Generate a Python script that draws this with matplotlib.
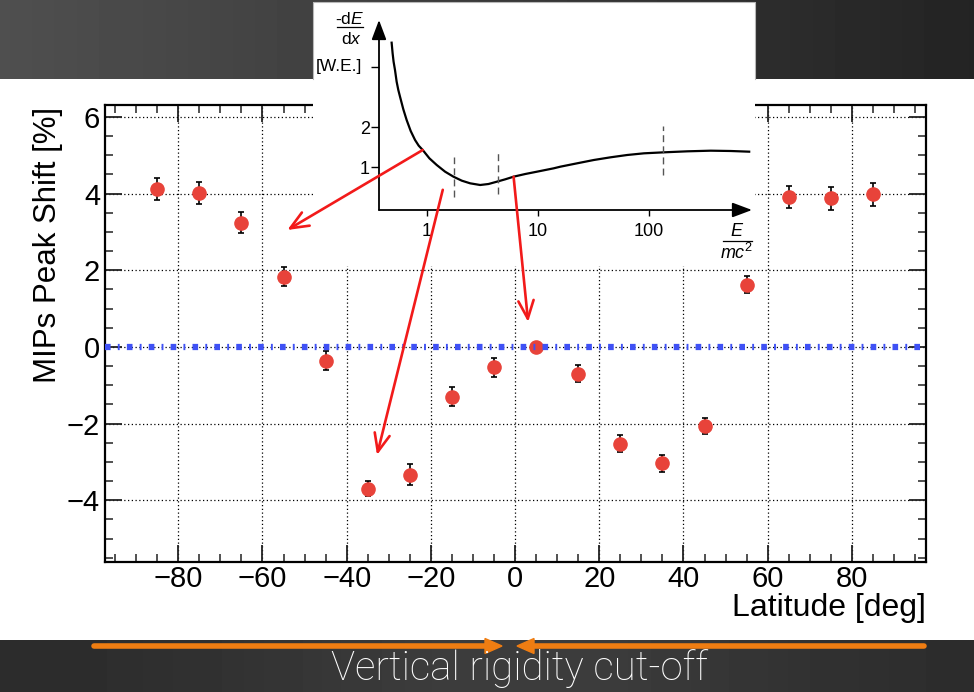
import numpy as np
import matplotlib
matplotlib.use('Agg')
import matplotlib.pyplot as plt
from matplotlib.ticker import MultipleLocator, FixedLocator, NullLocator
from matplotlib.patches import Rectangle, Polygon, ConnectionPatch

plt.rcParams['font.family'] = ['Liberation Sans', 'DejaVu Sans']
plt.rcParams['mathtext.fontset'] = 'custom'
plt.rcParams['mathtext.rm'] = 'Liberation Sans'
plt.rcParams['mathtext.it'] = 'Liberation Sans:italic'

# ---------------- data ----------------
latitude = [-85, -75, -65, -55, -45, -35, -25, -15, -5, 5, 15, 25, 35, 45, 55, 65, 75, 85]
peak_shift = [4.12, 4.02, 3.24, 1.83, -0.36, -3.70, -3.33, -1.30, -0.53, 0.0,
              -0.70, -2.52, -3.03, -2.06, 1.62, 3.91, 3.88, 3.98]
peak_err = [0.28, 0.28, 0.27, 0.25, 0.25, 0.2, 0.27, 0.25, 0.25, 0.0,
            0.22, 0.22, 0.22, 0.2, 0.22, 0.28, 0.3, 0.3]
xticks_main = [-80, -60, -40, -20, 0, 20, 40, 60, 80]
yticks_main = [-4, -2, 0, 2, 4, 6]

# inset: schematic Bethe-Bloch curve
bb_energy = [0.485, 0.495, 0.505, 0.520, 0.538, 0.557, 0.577, 0.618, 0.662, 0.720,
             0.788, 0.850, 0.924, 1.061, 1.235, 1.469, 1.747, 2.077, 2.470, 3.040,
             3.614, 4.298, 5.110, 6.077, 7.745, 9.870, 13.95, 16.03, 22.66, 32.04,
             45.3, 64.0, 90.6, 137.2, 222.8, 362, 548, 803]
bb_dedx = [4.108, 3.842, 3.633, 3.425, 3.133, 2.925, 2.758, 2.442, 2.175, 1.900,
           1.675, 1.533, 1.425, 1.217, 1.050, 0.883, 0.758, 0.658, 0.592, 0.550,
           0.575, 0.633, 0.692, 0.758, 0.825, 0.883, 0.967, 1.008, 1.092, 1.175,
           1.242, 1.300, 1.342, 1.367, 1.392, 1.408, 1.400, 1.383]
bb_xticks = [1, 10, 100]
bb_xticklabels = ['1', '10', '100']
bb_yticks = [1, 2, 3.5]
bb_yticklabels = ['1', '2', '']
bb_mark_energy = [1.77, 4.4, 135]
bb_mark_low = [0.25, 0.33, 0.80]
bb_mark_high = [1.25, 1.35, 2.03]

# red arrows: from (E/mc2, dE/dx) on inset to (latitude, shift) on main plot
arrow_from = [(0.924, 1.425), (1.40, 0.43), (6.077, 0.758)]
arrow_to = [(-54.1, 3.05), (-32.8, -2.82), (3.1, 0.65)]

RED = '#e8433a'
BLUE = '#3f51f5'
ORANGE = '#ef7d12'

W, H = 974, 692
fig = plt.figure(figsize=(W / 100, H / 100), dpi=100)
fig.patch.set_facecolor('white')


def frac(x0, y0, x1, y1):
    return [x0 / W, 1 - y1 / H, (x1 - x0) / W, (y1 - y0) / H]


# ---------------- slide background ----------------
bg = fig.add_axes([0, 0, 1, 1], zorder=-5)
xs = np.linspace(0, 1, 300)
top = np.tile(0.31 - 0.17 * xs, (2, 1))
bg.imshow(top, extent=(0, W, 79, 0), cmap='gray', vmin=0, vmax=1,
          aspect='auto', interpolation='bilinear')
bot = np.tile(0.17 + 0.07 * np.exp(-((xs - 0.53) / 0.3) ** 2), (2, 1))
bg.imshow(bot, extent=(0, W, H, 640), cmap='gray', vmin=0, vmax=1,
          aspect='auto', interpolation='bilinear')
bg.set_xlim(0, W)
bg.set_ylim(H, 0)
bg.axis('off')

# orange arrows
bg.plot([94, 487], [646, 646], color=ORANGE, lw=4, solid_capstyle='round')
bg.add_patch(Polygon([[485, 638.5], [502, 646], [485, 653.5]], closed=True, color=ORANGE))
bg.plot([532, 924], [646, 646], color=ORANGE, lw=4, solid_capstyle='round')
bg.add_patch(Polygon([[534, 638.5], [517, 646], [534, 653.5]], closed=True, color=ORANGE))
bg.text(519, 668, 'Vertical rigidity cut-off', color='white', fontsize=29,
        family=['Roboto', 'DejaVu Sans'], fontweight='light', ha='center', va='center')

# ---------------- main axes ----------------
ax = fig.add_axes(frac(105, 105, 926, 562), zorder=1)
ax.errorbar(latitude, peak_shift, yerr=peak_err, fmt='o', color=RED, ms=9.5,
            mec=RED, ecolor='black', elinewidth=1.2, capsize=2.5, capthick=1.2, zorder=3)
ax.axhline(0, color=BLUE, lw=4.5, linestyle=(0, (0.9, 1.15, 0.3, 1.15)), zorder=4)
ax.set_xlim(-97.4, 97.6)
ax.set_ylim(-5.61, 6.31)
ax.xaxis.set_major_locator(FixedLocator(xticks_main))
ax.yaxis.set_major_locator(FixedLocator(yticks_main))
ax.xaxis.set_minor_locator(MultipleLocator(5))
ax.yaxis.set_minor_locator(MultipleLocator(0.5))
ax.tick_params(which='both', direction='in', top=True, right=True, color='#222222')
ax.tick_params(which='major', length=12, width=1.3, labelsize=21)
ax.tick_params(which='minor', length=6, width=1.1)
ax.tick_params(axis='x', which='major', pad=2.5)
ax.tick_params(axis='y', which='major', pad=3.5)
ax.grid(True, which='major', color='black', lw=0.9, linestyle=(0, (1, 2)))
ax.set_axisbelow(True)
for s in ax.spines.values():
    s.set_linewidth(1.6)
ax.set_ylabel('MIPs Peak Shift [%]', fontsize=22.5)
ax.yaxis.label.set(rotation_mode='default', ha='center', va='top')
ax.yaxis.set_label_coords(-0.0694, 0.996)
ax.set_xlabel('Latitude [deg]', fontsize=23)
ax.xaxis.label.set(ha='right', va='top')
ax.xaxis.set_label_coords(1.0, -0.068)

# ---------------- inset panel ----------------
ov = fig.add_axes([0, 0, 1, 1], zorder=2)
ov.set_xlim(0, W)
ov.set_ylim(H, 0)
ov.axis('off')
ov.patch.set_visible(False)
ov.add_patch(Rectangle((313, 2), 442, 264, facecolor='white', edgecolor='none'))
ov.plot([313, 313, 755, 755], [79, 2, 2, 79], color='#b8b8b8', lw=0.8)
NARROW = ['Liberation Sans Narrow', 'Liberation Sans']
ov.text(350, 19, r'-d$E$', fontsize=12.5, family=NARROW, ha='center', va='center')
ov.plot([337, 363], [27, 27], color='black', lw=0.9)
ov.text(351, 39.5, r'd$x$', fontsize=12.5, family=NARROW, ha='center', va='center')
ov.text(339, 66.5, '[W.E.]', fontsize=12.5, family=NARROW, ha='center', va='center')
ov.text(737, 232, r'$E$', fontsize=13, family=NARROW, ha='center', va='center')
ov.plot([723, 752], [241, 241], color='black', lw=0.9)
ov.text(737, 253, r'$mc^2$', fontsize=13, family=NARROW, ha='center', va='center')

ax2 = fig.add_axes(frac(379, 20, 752, 210), zorder=3)
ax2.patch.set_visible(False)
ax2.set_xscale('log')
ax2.plot(bb_energy, bb_dedx, color='black', lw=1.6, solid_joinstyle='round')
for e, lo, hi in zip(bb_mark_energy, bb_mark_low, bb_mark_high):
    ax2.plot([e, e], [lo, hi], color='#555555', lw=1.0, linestyle=(0, (5, 3)))
ax2.set_xlim(10 ** -0.428, 10 ** 2.93)
ax2.set_ylim(-0.075, 4.675)
ax2.xaxis.set_major_locator(FixedLocator(bb_xticks))
ax2.xaxis.set_minor_locator(NullLocator())
ax2.set_xticklabels(bb_xticklabels)
ax2.yaxis.set_major_locator(FixedLocator(bb_yticks))
ax2.set_yticklabels(bb_yticklabels)
ax2.tick_params(axis='x', direction='out', length=4, width=1, labelsize=13, pad=5)
ax2.tick_params(axis='y', direction='out', length=5.5, width=1, labelsize=13, pad=1)
for lab in ax2.get_xticklabels() + ax2.get_yticklabels():
    lab.set_family(NARROW)
for s in ax2.spines.values():
    s.set_visible(False)
ax2.annotate('', xy=(1, 0), xytext=(0, 0), xycoords='axes fraction',
             arrowprops=dict(arrowstyle='-|>,head_length=1.2,head_width=0.45',
                             mutation_scale=10, color='black', lw=1.3,
                             shrinkA=0, shrinkB=0))
ax2.annotate('', xy=(0, 1), xytext=(0, 0), xycoords='axes fraction',
             arrowprops=dict(arrowstyle='-|>,head_length=1.2,head_width=0.45',
                             mutation_scale=10, color='black', lw=1.3,
                             shrinkA=0, shrinkB=0))

# ---------------- red arrows ----------------
for (xa, ya), (xb, yb) in zip(arrow_from, arrow_to):
    cp = ConnectionPatch(xyA=(xa, ya), coordsA='data', axesA=ax2,
                         xyB=(xb, yb), coordsB='data', axesB=ax,
                         arrowstyle='->,head_length=1.3,head_width=0.55',
                         mutation_scale=10, color='#f21a1a', lw=1.9,
                         shrinkA=0, shrinkB=0)
    cp.set_zorder(6)
    fig.add_artist(cp)

fig.savefig('out.png', dpi=100)
